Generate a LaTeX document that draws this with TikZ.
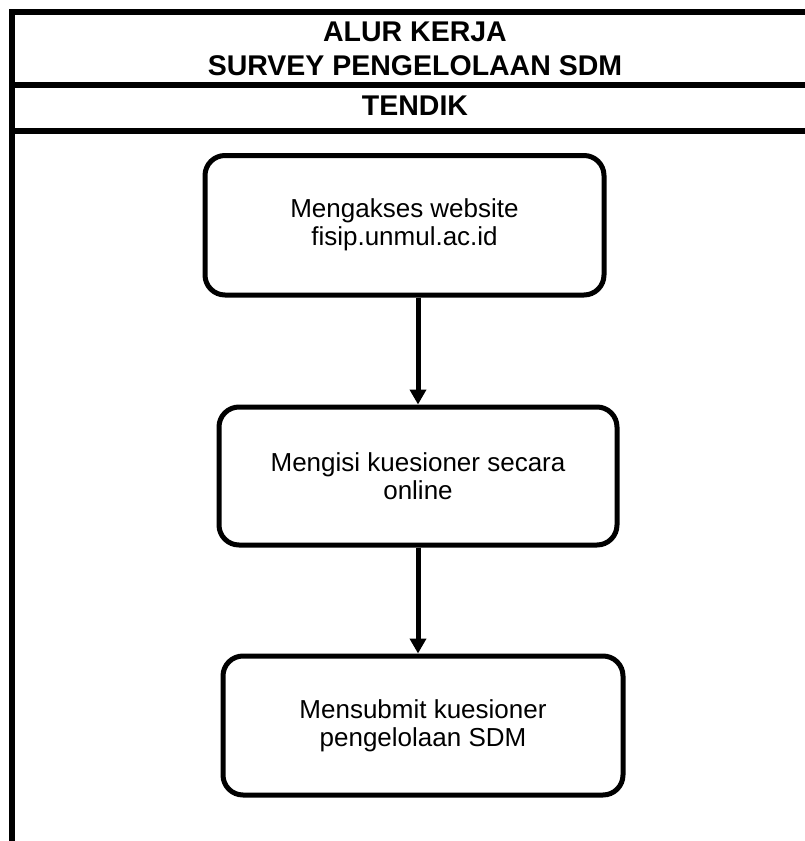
\documentclass[tikz,border=0pt]{standalone}
\usepackage{fontspec}
\setmainfont{Liberation Sans}
\usetikzlibrary{arrows.meta}
\begin{document}
\begin{tikzpicture}[x=1pt,y=-1pt,
  frame/.style={line width=6pt,line join=miter},
  stepbox/.style={draw,line width=5pt,rounded corners=20pt,align=center,
    font=\fontsize{26}{28}\selectfont,inner sep=0pt},
  arr/.style={line width=5pt,-{Triangle[width=16pt,length=15pt]}},
  titletext/.style={font=\bfseries\fontsize{28.5}{34}\selectfont,align=center,inner sep=0pt}]
\useasboundingbox (0,0) rectangle (805,841);
\draw[frame] (815,12) -- (12,12) -- (12,851);
\draw[frame] (12,85) -- (815,85);
\draw[frame] (12,130.5) -- (815,130.5);
\node[titletext] (title) at (415,49) {ALUR KERJA\\SURVEY PENGELOLAAN SDM};
\node[titletext] (lane) at (415,106) {TENDIK};
\node[stepbox,minimum width=399pt,minimum height=139.5pt] (b1) at (404.5,225.25) {Mengakses website\\fisip.unmul.ac.id};
\node[stepbox,minimum width=398pt,minimum height=138pt] (b2) at (418,476) {Mengisi kuesioner secara\\online};
\node[stepbox,minimum width=400pt,minimum height=139pt] (b3) at (423,725.5) {Mensubmit kuesioner\\pengelolaan SDM};
\draw[arr] (b1.south -| b2.north) -- (b2.north);
\draw[arr] (b2.south) -- (b2.south |- b3.north);
\end{tikzpicture}
\end{document}
